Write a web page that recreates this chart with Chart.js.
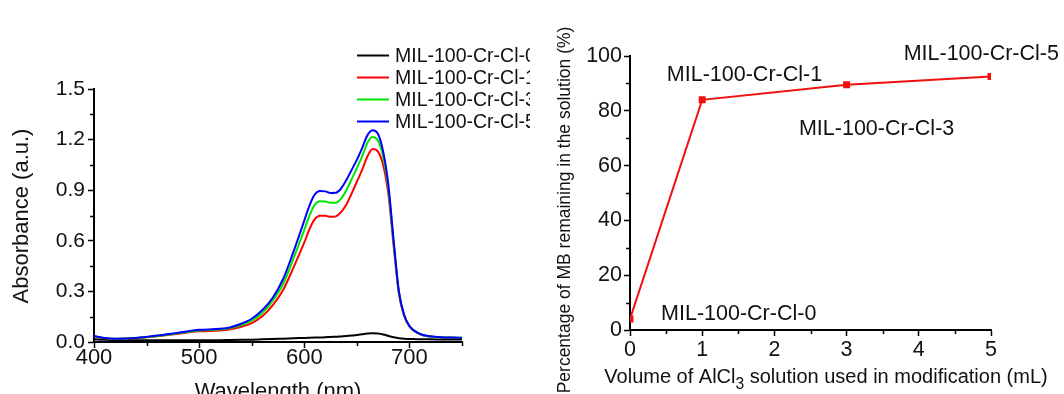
<!DOCTYPE html>
<html>
<head>
<meta charset="utf-8">
<script src="https://cdn.jsdelivr.net/npm/chart.js@4.4.1/dist/chart.umd.min.js"></script>
<style>
  html, body { margin: 0; padding: 0; background: #fff; }
  #wrap { position: relative; width: 1064px; height: 394px; overflow: hidden; }
  .box { position: absolute; top: 0; height: 394px; }
  #left { left: 0; width: 530px; }
  #right { left: 530px; width: 534px; }
</style>
</head>
<body>
<div id="wrap">
  <div class="box" id="left"><canvas id="spectra" width="530" height="394"></canvas></div>
  <div class="box" id="right"><canvas id="removal" width="534" height="394"></canvas></div>
</div>
<script>
// UV-vis spectra of the MB solution after adsorption
const wavelength = [400, 410, 420, 440, 460, 480, 500, 520, 530, 540, 550, 560, 570, 580, 590,
  600, 605, 610, 615, 620, 625, 630, 635, 640, 645, 650, 655, 660, 665, 670, 675, 680, 685,
  690, 695, 700, 710, 720, 730, 740, 750];
const absCl0 = [0.016, 0.013, 0.012, 0.011, 0.010, 0.010, 0.010, 0.011, 0.012, 0.013, 0.014,
  0.016, 0.018, 0.020, 0.022, 0.024, 0.025, 0.026, 0.027, 0.028, 0.030, 0.031, 0.033, 0.035,
  0.038, 0.042, 0.046, 0.050, 0.052, 0.050, 0.045, 0.036, 0.028, 0.022, 0.019, 0.018, 0.016,
  0.016, 0.015, 0.015, 0.015];
const absCl1 = [0.032, 0.022, 0.018, 0.022, 0.034, 0.049, 0.063, 0.068, 0.076, 0.090, 0.112,
  0.152, 0.218, 0.310, 0.445, 0.590, 0.670, 0.728, 0.748, 0.748, 0.742, 0.745, 0.770, 0.815,
  0.880, 0.950, 1.020, 1.100, 1.145, 1.130, 1.050, 0.875, 0.570, 0.285, 0.155, 0.092, 0.046,
  0.032, 0.027, 0.025, 0.024];
const absCl3 = [0.034, 0.023, 0.019, 0.023, 0.036, 0.052, 0.068, 0.074, 0.083, 0.100, 0.126,
  0.172, 0.245, 0.345, 0.500, 0.665, 0.750, 0.815, 0.835, 0.833, 0.825, 0.826, 0.850, 0.900,
  0.965, 1.030, 1.100, 1.180, 1.215, 1.195, 1.100, 0.910, 0.590, 0.295, 0.160, 0.094, 0.047,
  0.033, 0.028, 0.026, 0.025];
const absCl5 = [0.036, 0.024, 0.020, 0.024, 0.038, 0.055, 0.072, 0.078, 0.088, 0.108, 0.138,
  0.188, 0.262, 0.375, 0.540, 0.720, 0.810, 0.875, 0.895, 0.893, 0.884, 0.885, 0.910, 0.960,
  1.020, 1.080, 1.150, 1.225, 1.255, 1.235, 1.130, 0.930, 0.600, 0.300, 0.160, 0.095, 0.048,
  0.034, 0.028, 0.026, 0.025];
const sampleNames = ['MIL-100-Cr-Cl-0', 'MIL-100-Cr-Cl-1', 'MIL-100-Cr-Cl-3', 'MIL-100-Cr-Cl-5'];
const absTicks = [0, 0.3, 0.6, 0.9, 1.2, 1.5];
const waveTicks = [400, 500, 600, 700];

// MB left in solution vs. volume of AlCl3 used
const alcl3Volume = [0, 1, 3, 5];
const mbRemaining = [4, 84, 89.5, 92.5];
const volumeTicks = [0, 1, 2, 3, 4, 5];
const percentTicks = [0, 20, 40, 60, 80, 100];

const FONT = '"Liberation Sans", Arial, Helvetica, sans-serif';
const INK = '#111';

function pair(xs, ys) {
  return xs.map((x, i) => ({ x: x, y: ys[i] }));
}

function useTicks(list) {
  return function (scale) { scale.ticks = list.map(v => ({ value: v })); };
}

// minor ticks halfway between the major ones, drawn outward
const minorTicks = {
  id: 'minorTicks',
  afterDraw(chart) {
    const ctx = chart.ctx;
    const area = chart.chartArea;
    ctx.save();
    ctx.strokeStyle = '#000';
    ctx.lineWidth = 1.5;
    ['x', 'y'].forEach(function (id) {
      const sc = chart.scales[id];
      const t = sc.ticks.map(k => k.value);
      const step = t[1] - t[0];
      for (let v = t[0] + step / 2; v <= sc.max + 1e-9; v += step) {
        const p = Math.round(sc.getPixelForValue(v)) + 0.5;
        ctx.beginPath();
        if (id === 'x') { ctx.moveTo(p, area.bottom); ctx.lineTo(p, area.bottom + 4); }
        else { ctx.moveTo(area.left, p); ctx.lineTo(area.left - 4, p); }
        ctx.stroke();
      }
    });
    ctx.restore();
  }
};

// axis titles, placed by hand
const axisTitles = {
  id: 'axisTitles',
  afterDraw(chart, args, opts) {
    const ctx = chart.ctx;
    ctx.save();
    ctx.fillStyle = INK;
    ctx.textAlign = 'center';
    ctx.textBaseline = 'middle';
    const y = opts.y;
    ctx.font = y.size + 'px ' + FONT;
    ctx.translate(y.cx, y.cy);
    ctx.rotate(-Math.PI / 2);
    ctx.fillText(y.text, 0, 0);
    ctx.setTransform(1, 0, 0, 1, 0, 0);
    const x = opts.x;
    ctx.textBaseline = 'alphabetic';
    if (x.parts) {
      // text with a subscript piece
      let w = 0;
      x.parts.forEach(function (p) {
        ctx.font = (p.sub ? x.size * 0.78 : x.size) + 'px ' + FONT;
        w += ctx.measureText(p.t).width;
      });
      let cx = x.cx - w / 2;
      ctx.textAlign = 'left';
      x.parts.forEach(function (p) {
        ctx.font = (p.sub ? x.size * 0.78 : x.size) + 'px ' + FONT;
        ctx.fillText(p.t, cx, x.base + (p.sub ? 6 : 0));
        cx += ctx.measureText(p.t).width;
      });
    } else {
      ctx.font = x.size + 'px ' + FONT;
      ctx.fillText(x.text, x.cx, x.base);
    }
    ctx.restore();
  }
};

// line legend in the top right corner of the spectra panel
const lineLegend = {
  id: 'lineLegend',
  afterDraw(chart, args, opts) {
    const ctx = chart.ctx;
    ctx.save();
    ctx.font = opts.size + 'px ' + FONT;
    ctx.textBaseline = 'middle';
    ctx.textAlign = 'left';
    chart.data.datasets.forEach(function (ds, i) {
      const y = opts.top + i * opts.gap;
      ctx.strokeStyle = ds.borderColor;
      ctx.lineWidth = 2;
      ctx.beginPath();
      ctx.moveTo(opts.left, y);
      ctx.lineTo(opts.left + 32, y);
      ctx.stroke();
      ctx.fillStyle = INK;
      ctx.fillText(ds.label, opts.left + 38, y + 1);
    });
    ctx.restore();
  }
};

// sample names written next to the points
const pointNotes = {
  id: 'pointNotes',
  afterDraw(chart, args, opts) {
    const ctx = chart.ctx;
    const sx = chart.scales.x, sy = chart.scales.y;
    ctx.save();
    ctx.font = opts.size + 'px ' + FONT;
    ctx.fillStyle = INK;
    ctx.textAlign = 'left';
    ctx.textBaseline = 'middle';
    opts.notes.forEach(function (n) {
      ctx.fillText(n.text, sx.getPixelForValue(n.x), sy.getPixelForValue(n.y));
    });
    ctx.restore();
  }
};

function axis(extra) {
  const base = {
    type: 'linear',
    border: { display: true, color: '#000', width: 2 },
    grid: { drawOnChartArea: false, drawTicks: true, color: '#000', tickLength: 6, tickWidth: 1.5 },
    ticks: { color: INK, padding: 2, maxRotation: 0, font: { family: FONT, size: 20 } }
  };
  return Object.assign(base, extra);
}

new Chart(document.getElementById('spectra'), {
  type: 'line',
  data: {
    datasets: [
      { label: sampleNames[0], data: pair(wavelength, absCl0), borderColor: '#000000', order: 3 },
      { label: sampleNames[1], data: pair(wavelength, absCl1), borderColor: '#ff0000', order: 2 },
      { label: sampleNames[2], data: pair(wavelength, absCl3), borderColor: '#00e600', order: 1 },
      { label: sampleNames[3], data: pair(wavelength, absCl5), borderColor: '#0000ff', order: 0 }
    ]
  },
  options: {
    animation: false,
    responsive: false,
    layout: { padding: { left: 0, top: 89, right: 68, bottom: 0 } },
    elements: {
      point: { radius: 0 },
      line: { borderWidth: 2, cubicInterpolationMode: 'monotone', fill: false }
    },
    plugins: {
      legend: { display: false },
      tooltip: { enabled: false },
      lineLegend: { left: 357, top: 55.5, gap: 22, size: 19.5 },
      axisTitles: {
        y: { text: 'Absorbance (a.u.)', cx: 22, cy: 216, size: 22 },
        x: { text: 'Wavelength (nm)', cx: 278, base: 398, size: 22 }
      }
    },
    scales: {
      x: axis({
        min: 400, max: 750,
        afterBuildTicks: useTicks(waveTicks),
        afterFit(s) { s.height = 52; },
        ticks: { color: INK, padding: -3, maxRotation: 0, font: { family: FONT, size: 22 } }
      }),
      y: axis({
        min: 0, max: 1.5,
        afterBuildTicks: useTicks(absTicks),
        afterFit(s) { s.width = 94; },
        ticks: {
          color: INK, padding: 3, font: { family: FONT, size: 21 },
          callback: v => v.toFixed(1)
        }
      })
    }
  },
  plugins: [minorTicks, axisTitles, lineLegend]
});

new Chart(document.getElementById('removal'), {
  type: 'line',
  data: {
    datasets: [{
      label: 'MB remaining',
      data: pair(alcl3Volume, mbRemaining),
      borderColor: '#f01010',
      backgroundColor: '#f01010',
      borderWidth: 2,
      pointStyle: 'rect',
      pointRadius: 3.5,
      tension: 0
    }]
  },
  options: {
    animation: false,
    responsive: false,
    layout: { padding: { left: 0, top: 56, right: 73, bottom: 0 } },
    plugins: {
      legend: { display: false },
      tooltip: { enabled: false },
      pointNotes: {
        size: 21.5,
        notes: [
          { text: sampleNames[0], x: 0.43, y: 5.8 },
          { text: sampleNames[1], x: 0.51, y: 93 },
          { text: sampleNames[2], x: 2.34, y: 73.3 },
          { text: sampleNames[3], x: 3.79, y: 100.8 }
        ]
      },
      axisTitles: {
        y: { text: 'Percentage of MB remaining in the solution (%)', cx: 35, cy: 210, size: 17.5 },
        x: {
          cx: 296, base: 383, size: 20,
          parts: [{ t: 'Volume of AlCl' }, { t: '3', sub: true }, { t: ' solution used in modification (mL)' }]
        }
      }
    },
    scales: {
      x: axis({
        min: 0, max: 5,
        afterBuildTicks: useTicks(volumeTicks),
        afterFit(s) { s.height = 64; },
        ticks: { color: INK, padding: 1, maxRotation: 0, font: { family: FONT, size: 21.5 } }
      }),
      y: axis({
        min: 0, max: 100,
        afterBuildTicks: useTicks(percentTicks),
        afterFit(s) { s.width = 100; },
        ticks: { color: INK, padding: 2, font: { family: FONT, size: 21.5 } }
      })
    }
  },
  plugins: [minorTicks, axisTitles, pointNotes]
});
</script>
</body>
</html>
